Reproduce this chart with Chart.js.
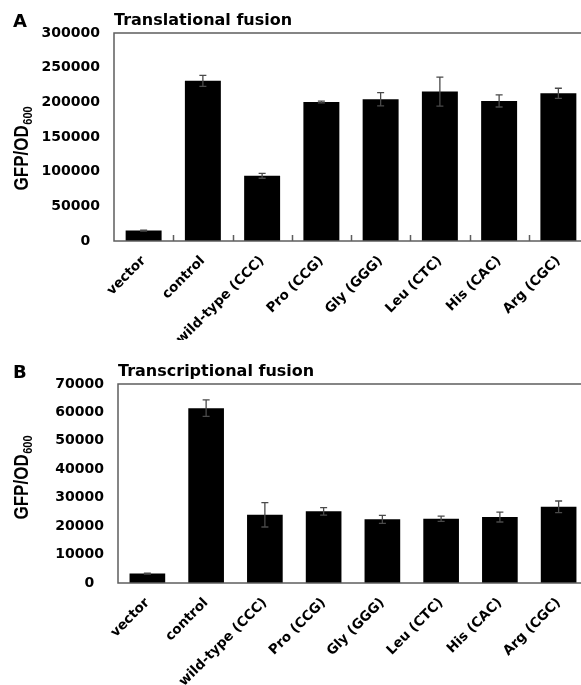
<!DOCTYPE html>
<html>
<head>
<meta charset="utf-8">
<script src="https://cdn.jsdelivr.net/npm/chart.js@4.4.1/dist/chart.umd.min.js"></script>
<style>
  html, body { margin: 0; padding: 0; background: #fff; width: 581px; height: 685px; overflow: hidden; }
  .panel { position: absolute; left: 0; }
  #wrapA { top: 0; }
  #wrapB { top: 340px; }
  canvas { display: block; }
</style>
</head>
<body>
<div class="panel" id="wrapA"><canvas id="chartA" width="595" height="340"></canvas></div>
<div class="panel" id="wrapB"><canvas id="chartB" width="595" height="345"></canvas></div>
<script>
// ---- Data ----
const categories = ['vector', 'control', 'wild-type (CCC)', 'Pro (CCG)', 'Gly (GGG)', 'Leu (CTC)', 'His (CAC)', 'Arg (CGC)'];

const translationalValues = [15000, 231000, 94000, 200500, 204500, 215500, 202000, 213000];
const translationalErrors = [600, 8000, 3500, 1200, 9500, 21000, 8700, 7300];
const translationalTicks = [0, 50000, 100000, 150000, 200000, 250000, 300000];

const transcriptionalValues = [3300, 61500, 24000, 25200, 22400, 22600, 23200, 26800];
const transcriptionalErrors = [200, 2900, 4300, 1300, 1400, 950, 1750, 2050];
const transcriptionalTicks = [0, 10000, 20000, 30000, 40000, 50000, 60000, 70000];

const titleA = 'Translational fusion';
const titleB = 'Transcriptional fusion';
const yTitleMain = 'GFP/OD';
const yTitleSub = '600';

const FONT = 'DejaVu Sans';
const FRAME = '#5e5e5e';

const decorPlugin = {
  id: 'decor',
  afterDatasetsDraw(chart, args, opts) {
    const ctx = chart.ctx;
    const a = chart.chartArea;
    const meta = chart.getDatasetMeta(0);
    const ys = chart.scales.y;
    ctx.save();
    // frame around plot area
    ctx.strokeStyle = FRAME;
    ctx.lineWidth = 1.5;
    ctx.strokeRect(a.left, a.top, a.right - a.left, a.bottom - a.top);
    // inward tick marks between categories
    if (opts.ticks) {
      ctx.beginPath();
      for (let i = 0; i < meta.data.length - 1; i++) {
        const x = Math.round((meta.data[i].x + meta.data[i + 1].x) / 2) + 0.5;
        ctx.moveTo(x, a.bottom);
        ctx.lineTo(x, a.bottom - 6);
      }
      ctx.stroke();
    }
    // error bars
    const vals = chart.data.datasets[0].data;
    const errs = opts.errors;
    ctx.strokeStyle = '#4a4a4a';
    ctx.lineWidth = 1.3;
    ctx.beginPath();
    for (let i = 0; i < meta.data.length; i++) {
      const x = meta.data[i].x;
      const yt = ys.getPixelForValue(vals[i] + errs[i]);
      const yb = ys.getPixelForValue(vals[i] - errs[i]);
      ctx.moveTo(x, yt); ctx.lineTo(x, yb);
      ctx.moveTo(x - 3.5, yt); ctx.lineTo(x + 3.5, yt);
      ctx.moveTo(x - 3.5, yb); ctx.lineTo(x + 3.5, yb);
    }
    ctx.stroke();
    ctx.restore();
  },
  afterDraw(chart, args, opts) {
    const ctx = chart.ctx;
    const a = chart.chartArea;
    ctx.save();
    // panel letter
    ctx.fillStyle = '#000';
    ctx.font = 'bold 18px "' + FONT + '"';
    ctx.textAlign = 'left';
    ctx.textBaseline = 'alphabetic';
    ctx.fillText(opts.letter, 13, opts.letterBaseline);
    // y-axis title with subscript (stretched like the original)
    const cy = (a.top + a.bottom) / 2 + opts.yTitleOffset;
    ctx.translate(28.3, cy);
    ctx.scale(1.2, 1);
    ctx.rotate(-Math.PI / 2);
    const mainFont = 'bold 17px "Liberation Sans"';
    const subFont = 'bold 11px "Liberation Sans"';
    ctx.font = mainFont;
    const w1 = ctx.measureText(yTitleMain).width;
    ctx.font = subFont;
    const w2 = ctx.measureText(yTitleSub).width;
    const x0 = -(w1 + w2 + 0.5) / 2;
    ctx.font = mainFont;
    ctx.fillText(yTitleMain, x0, 0);
    ctx.font = subFont;
    ctx.fillText(yTitleSub, x0 + w1 + 0.5, 2.8);
    ctx.restore();
  }
};

function makeChart(id, values, errors, ticks, title, cfg) {
  return new Chart(document.getElementById(id), {
    type: 'bar',
    data: {
      labels: categories,
      datasets: [{
        data: values,
        backgroundColor: '#000',
        borderWidth: 0,
        categoryPercentage: 1,
        barPercentage: 0.607
      }]
    },
    options: {
      responsive: false,
      animation: false,
      layout: { padding: { left: 0, right: 7, top: 0, bottom: 0 } },
      plugins: {
        legend: { display: false },
        tooltip: { enabled: false },
        title: {
          display: true,
          text: title,
          align: 'start',
          fullSize: false,
          color: '#000',
          font: { family: FONT, weight: 'bold', size: 16 },
          padding: cfg.titlePadding
        },
        decor: {
          errors: errors,
          ticks: cfg.ticks,
          letter: cfg.letter,
          letterBaseline: cfg.letterBaseline,
          yTitleOffset: cfg.yTitleOffset
        }
      },
      scales: {
        x: {
          grid: { display: false },
          border: { display: false },
          ticks: {
            autoSkip: false,
            maxRotation: 45,
            minRotation: 45,
            padding: 4,
            color: '#000',
            font: { family: FONT, weight: 'bold', size: 13.5 }
          },
          afterFit(scale) { scale.height = cfg.xHeight; }
        },
        y: {
          min: ticks[0],
          max: ticks[ticks.length - 1],
          grid: { display: false, drawTicks: false },
          border: { display: false },
          ticks: {
            stepSize: ticks[1] - ticks[0],
            padding: 14,
            color: '#000',
            font: { family: FONT, weight: 'bold', size: 14 },
            callback: (v) => (v === 0 ? '0  ' : String(v))
          },
          afterFit(scale) { scale.width = cfg.yWidth; }
        }
      }
    },
    plugins: [decorPlugin]
  });
}

makeChart('chartA', translationalValues, translationalErrors, translationalTicks, titleA, {
  titlePadding: { top: 11.6, bottom: 2.2 },
  ticks: true, letter: 'A', letterBaseline: 27, yTitleOffset: 11.4,
  xHeight: 99, yWidth: 114
});
makeChart('chartB', transcriptionalValues, transcriptionalErrors, transcriptionalTicks, titleB, {
  titlePadding: { top: 22.2, bottom: 2.6 },
  ticks: false, letter: 'B', letterBaseline: 38, yTitleOffset: -6,
  xHeight: 102, yWidth: 118
});
</script>
</body>
</html>
